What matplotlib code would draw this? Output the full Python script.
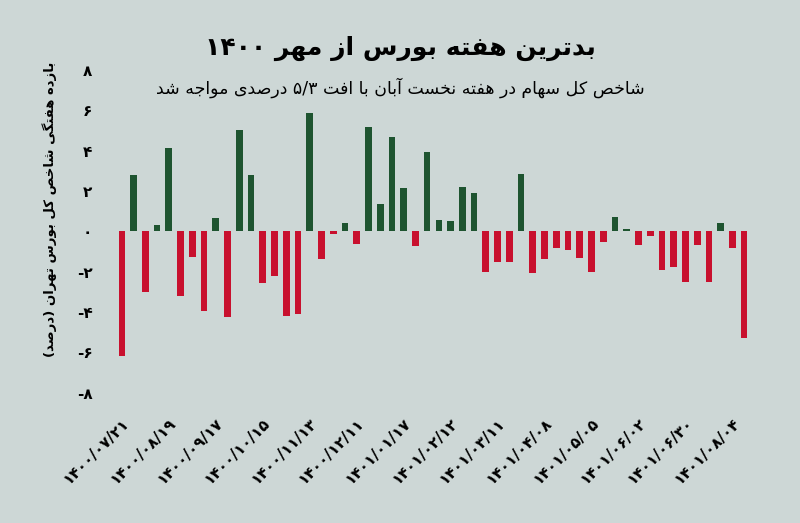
import re
import matplotlib
matplotlib.use("Agg")
import matplotlib.pyplot as plt

# weekly return of TSE index (percent), one bar per week from 1400/07/21
returns = [-6.2, 2.8, -3.0, 0.3, 4.15, -3.2, -1.25, -3.95, 0.65, -4.25,
           5.05, 2.8, -2.55, -2.2, -4.2, -4.1, 5.85, -1.35, -0.15, 0.4,
           -0.6, 5.2, 1.35, 4.7, 2.15, -0.7, 3.95, 0.55, 0.5, 2.2,
           1.9, -2.0, -1.5, -1.5, 2.85, -2.05, -1.35, -0.8, -0.9, -1.3,
           -2.0, -0.5, 0.7, 0.1, -0.65, -0.25, -1.9, -1.75, -2.5, -0.65,
           -2.5, 0.4, -0.8, -5.3]
date_labels = ["۱۴۰۰/۰۷/۲۱", "۱۴۰۰/۰۸/۱۹", "۱۴۰۰/۰۹/۱۷", "۱۴۰۰/۱۰/۱۵",
               "۱۴۰۰/۱۱/۱۳", "۱۴۰۰/۱۲/۱۱", "۱۴۰۱/۰۱/۱۷", "۱۴۰۱/۰۲/۱۲",
               "۱۴۰۱/۰۳/۱۱", "۱۴۰۱/۰۴/۰۸", "۱۴۰۱/۰۵/۰۵", "۱۴۰۱/۰۶/۰۲",
               "۱۴۰۱/۰۶/۳۰", "۱۴۰۱/۰۸/۰۴"]
label_step = 4
yticks = [-8, -6, -4, -2, 0, 2, 4, 6, 8]
ytick_labels = ["-۸", "-۶", "-۴", "-۲", "۰", "۲", "۴", "۶", "۸"]

title = "بدترین هفته بورس از مهر ۱۴۰۰"
subtitle = "شاخص کل سهام در هفته نخست آبان با افت ۵/۳ درصدی مواجه شد"
ylabel = "بازده هفتگی شاخص کل بورس تهران (درصد)"

# minimal persian shaping: (isolated, final, initial, medial)
FORMS = {
    "ا": ("\uFE8D", "\uFE8E", None, None),
    "آ": ("\uFE81", "\uFE82", None, None),
    "د": ("\uFEA9", "\uFEAA", None, None),
    "ر": ("\uFEAD", "\uFEAE", None, None),
    "ز": ("\uFEAF", "\uFEB0", None, None),
    "و": ("\uFEED", "\uFEEE", None, None),
    "ب": ("\uFE8F", "\uFE90", "\uFE91", "\uFE92"),
    "ت": ("\uFE95", "\uFE96", "\uFE97", "\uFE98"),
    "ج": ("\uFE9D", "\uFE9E", "\uFE9F", "\uFEA0"),
    "خ": ("\uFEA5", "\uFEA6", "\uFEA7", "\uFEA8"),
    "س": ("\uFEB1", "\uFEB2", "\uFEB3", "\uFEB4"),
    "ش": ("\uFEB5", "\uFEB6", "\uFEB7", "\uFEB8"),
    "ص": ("\uFEB9", "\uFEBA", "\uFEBB", "\uFEBC"),
    "ف": ("\uFED1", "\uFED2", "\uFED3", "\uFED4"),
    "ک": ("\uFB8E", "\uFB8F", "\uFB90", "\uFB91"),
    "گ": ("\uFB92", "\uFB93", "\uFB94", "\uFB95"),
    "ل": ("\uFEDD", "\uFEDE", "\uFEDF", "\uFEE0"),
    "م": ("\uFEE1", "\uFEE2", "\uFEE3", "\uFEE4"),
    "ن": ("\uFEE5", "\uFEE6", "\uFEE7", "\uFEE8"),
    "ه": ("\uFEE9", "\uFEEA", "\uFEEB", "\uFEEC"),
    "ی": ("\uFBFC", "\uFBFD", "\uFBFE", "\uFBFF"),
}


def fa(text):
    out = []
    for i, ch in enumerate(text):
        if ch not in FORMS:
            out.append(ch)
            continue
        prev = text[i - 1] if i > 0 else ""
        nxt = text[i + 1] if i + 1 < len(text) else ""
        jp = prev in FORMS and FORMS[prev][2] is not None
        jn = nxt in FORMS and FORMS[ch][2] is not None
        iso, fin, ini, med = FORMS[ch]
        if jp and jn:
            out.append(med)
        elif jp:
            out.append(fin)
        elif jn:
            out.append(ini)
        else:
            out.append(iso)
    s = "".join(out)[::-1]
    s = re.sub(r"[۰-۹0-9/]+", lambda m: m.group(0)[::-1], s)
    s = s.translate(str.maketrans("()", ")("))
    return s


bg = "#cdd7d6"
green = "#1e5430"
red = "#c8102e"

fig = plt.figure(figsize=(8, 5.23), dpi=100, facecolor=bg)
ax = fig.add_axes([0.145, 0.249, 0.7925, 0.617])
ax.set_facecolor(bg)

x = list(range(len(returns)))
colors = [green if v > 0 else red for v in returns]
ax.bar(x, returns, width=0.57, color=colors)

ax.set_xlim(-0.5, len(returns) - 0.5)
ax.set_ylim(-8, 8)
ax.set_yticks(yticks)
ax.set_yticklabels(ytick_labels, fontsize=11, fontweight="bold", family="DejaVu Sans")
ax.set_xticks(x[::label_step])
ax.set_xticklabels(date_labels, rotation=45, ha="right", rotation_mode="anchor",
                   fontsize=11, fontweight="bold", family="DejaVu Sans")
ax.tick_params(axis="both", length=0)
ax.tick_params(axis="y", pad=17)
ax.tick_params(axis="x", pad=16)
for s in ax.spines.values():
    s.set_visible(False)

ax.set_ylabel(fa(ylabel), fontsize=9.5, fontweight="bold")
ax.yaxis.set_label_coords(-0.093, 0.567)

fig.text(0.5, 0.908, fa(title), ha="center", va="center",
         fontsize=18, fontweight="bold")
fig.text(0.5, 0.832, fa(subtitle), ha="center", va="center", fontsize=12.5)

fig.savefig("out.png", dpi=100, facecolor=bg)
